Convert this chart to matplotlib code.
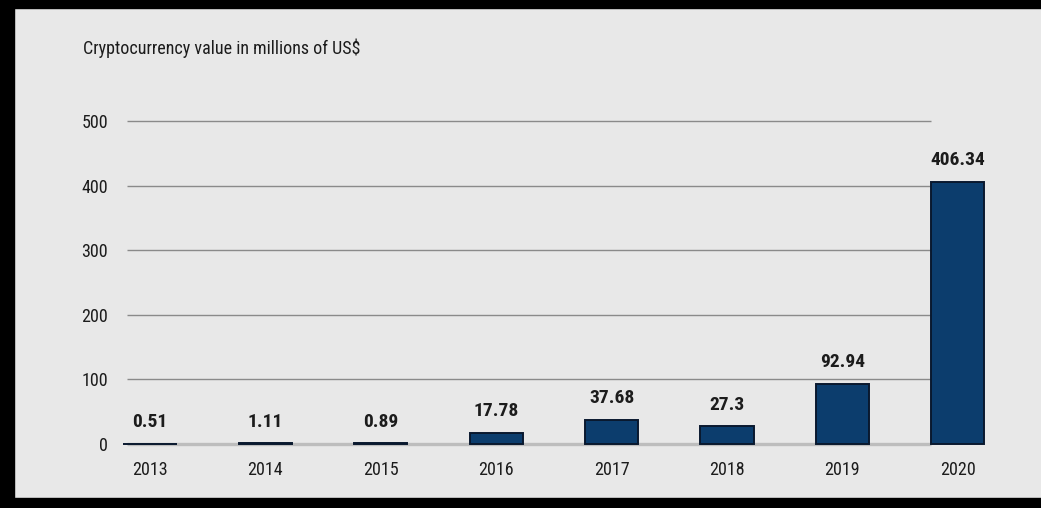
import matplotlib
matplotlib.use("Agg")
import matplotlib.pyplot as plt
from matplotlib import font_manager
from matplotlib.patches import Rectangle

# --- data -------------------------------------------------------------
years = ["2013", "2014", "2015", "2016", "2017", "2018", "2019", "2020"]
values = [0.51, 1.11, 0.89, 17.78, 37.68, 27.3, 92.94, 406.34]
value_labels = ["0.51", "1.11", "0.89", "17.78", "37.68", "27.3", "92.94", "406.34"]
y_ticks = [0, 100, 200, 300, 400, 500]
title = "Cryptocurrency value in millions of US$"

# --- fonts ------------------------------------------------------------
installed = {f.name for f in font_manager.fontManager.ttflist}
narrow = next((f for f in ["Liberation Sans Narrow", "DejaVu Sans Condensed",
                           "Roboto Condensed", "Liberation Sans"] if f in installed),
              "DejaVu Sans")
plt.rcParams["font.family"] = [narrow, "DejaVu Sans"]

# --- style ------------------------------------------------------------
BG = "#e8e8e8"
BAR = "#0c3d6d"
BAR_EDGE = "#09182e"
GRID = "#8a8a8a"
BASE = "#bdbdbd"
TEXT = "#1c1c1c"

W, H, DPI = 1041, 508, 100
fig = plt.figure(figsize=(W / DPI, H / DPI), dpi=DPI, facecolor=BG)

# axes placement in pixels
ax_left, ax_right, ax_top, ax_bottom = 127, 1020, 100, 444
ax = fig.add_axes([ax_left / W, (H - ax_bottom) / H,
                   (ax_right - ax_left) / W, (ax_bottom - ax_top) / H])
ax.set_facecolor(BG)

# category spacing (px) and first category centre (px)
step_px, first_px = 115.4, 150
x = list(range(len(years)))
ax.set_xlim((ax_left - first_px) / step_px, (ax_right - first_px) / step_px)
px_per_unit = (ax_bottom - 121) / 500
ax.set_ylim(0, (ax_bottom - ax_top) / px_per_unit)

bar_w = 0.46
grid_end = x[-1] - bar_w / 2
x0 = ax.get_xlim()[0]

# horizontal rules
for t in y_ticks[1:]:
    ax.hlines(t, x0, grid_end, color=GRID, lw=1.0, zorder=1)
ax.hlines(0, x0, grid_end, color=BASE, lw=2.4, zorder=1, clip_on=False)

bars = ax.bar(x, values, width=bar_w, color=BAR, edgecolor=BAR_EDGE,
              linewidth=1.4, zorder=3, clip_on=False)

for xi, v, lab in zip(x, values, value_labels):
    ax.annotate(lab, (xi, v), xytext=(0, 12), textcoords="offset points",
                ha="center", va="baseline", fontsize=14, fontweight="bold",
                color=TEXT, annotation_clip=False)

ax.set_yticks(y_ticks)
ax.set_yticklabels([str(t) for t in y_ticks])
ax.set_xticks(x)
ax.set_xticklabels(years)
ax.tick_params(axis="y", length=0, pad=13.5, labelsize=13, labelcolor=TEXT)
ax.tick_params(axis="x", length=0, pad=12, labelsize=13, labelcolor=TEXT)
for s in ax.spines.values():
    s.set_visible(False)

fig.text(83 / W, 1 - 48 / H, title, ha="left", va="center",
         fontsize=13, color=TEXT)

# black frame on top, left and bottom edges
fig.patches.append(Rectangle((0, 1 - 8 / H), 1, 8 / H, transform=fig.transFigure,
                             color="black", zorder=10))
fig.patches.append(Rectangle((0, 0), 14 / W, 1, transform=fig.transFigure,
                             color="black", zorder=10))
fig.patches.append(Rectangle((0, 0), 1, 10 / H, transform=fig.transFigure,
                             color="black", zorder=10))

fig.savefig("out.png", dpi=DPI, facecolor=BG)
